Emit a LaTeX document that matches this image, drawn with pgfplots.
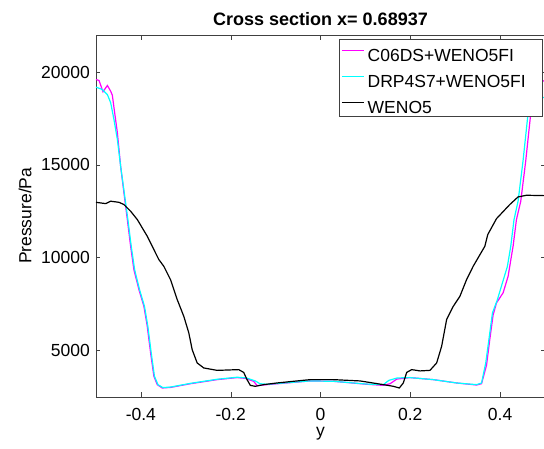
\documentclass[border=0pt]{standalone}
\usepackage{fontspec}
\setmainfont{Liberation Sans}
\usepackage{pgfplots}
\pgfplotsset{compat=1.18}
\definecolor{mag}{RGB}{255,0,255}
\definecolor{cya}{RGB}{0,255,255}
\begin{document}
\begin{tikzpicture}
\begin{axis}[
  scale only axis, width=449pt, height=361.7pt,
  xmin=-0.5, xmax=0.5, ymin=2500, ymax=22000,
  xtick={-0.4,-0.2,0,0.2,0.4},
  ytick={5000,10000,15000,20000},
  scaled y ticks=false, scaled x ticks=false,
  /pgf/number format/assume math mode=true,
  /pgf/number format/set thousands separator={},
  axis line style={black!75},
  every tick/.style={black!75},
  major tick length=4.5pt,
  no marks,
  tick label style={font=\fontsize{17.5}{21}\selectfont},
  xticklabel style={anchor=base, yshift=-24pt, inner sep=0pt},
  yticklabel style={anchor=east, inner sep=0pt, xshift=-6pt},
  every axis y label/.style={at={([xshift=-71pt]axis description cs:0,0.5)}, rotate=90, anchor=center, font=\fontsize{17.5}{21}\selectfont},
  every axis x label/.style={at={([yshift=-37.3pt]axis description cs:0.5,0)}, anchor=center, font=\fontsize{17.5}{21}\selectfont},
  every axis title/.style={at={([yshift=10pt]axis description cs:0.5,1)}, anchor=base, font=\bfseries\fontsize{18}{21}\selectfont},
  title={Cross section x= 0.68937},
  xlabel={y}, ylabel={Pressure/Pa},
  legend image code/.code={\path (0pt,0pt); \draw[#1] (0pt,10.7pt) -- (21.7pt,10.7pt);},
  legend style={at={([xshift=-3pt,yshift=-4pt]axis description cs:1,1)}, anchor=north east,
    draw=black!75, fill=white, inner xsep=1.7pt, inner ysep=2.6pt, row sep=5.9pt, column sep=3.5pt,
    font=\fontsize{17.5}{21}\selectfont,
    nodes={inner sep=0pt, text height=19.4pt, text depth=0pt},
    cells={anchor=base west}},
]
\addplot[mag, line width=1.2pt] table {
-0.5000 19600
-0.4933 19550
-0.4844 18940
-0.4747 19280
-0.4673 18970
-0.4636 18750
-0.4584 17800
-0.4524 16730
-0.4451 14920
-0.4378 13490
-0.4302 12050
-0.4229 10610
-0.4156 9350
-0.4044 8270
-0.3933 7370
-0.3858 6290
-0.3784 4860
-0.3711 3600
-0.3636 3150
-0.3524 2970
-0.3340 3000
-0.2896 3200
-0.2302 3420
-0.1858 3530
-0.1673 3490
-0.1489 3330
-0.1413 3100
-0.1191 3150
-0.0229 3350
0.0289 3330
0.1031 3170
0.1400 3110
0.1550 3200
0.1700 3450
0.1993 3530
0.2511 3420
0.3031 3240
0.3476 3130
0.3587 3200
0.3698 4200
0.3771 5600
0.3844 6900
0.3920 7560
0.4067 8100
0.4178 8990
0.4289 10610
0.4364 12050
0.4460 13037
0.4570 15195
0.4680 17714
0.4810 18900
0.4950 19510
0.5000 19550
};
\addlegendentry{C06DS+WENO5FI}
\addplot[cya, line width=1.2pt] table {
-0.5000 19190
-0.4858 19060
-0.4747 18790
-0.4673 18350
-0.4600 17440
-0.4524 16370
-0.4451 14920
-0.4370 13490
-0.4290 12050
-0.4215 10610
-0.4140 9350
-0.4030 8270
-0.3920 7370
-0.3845 6290
-0.3770 4860
-0.3698 3600
-0.3620 3150
-0.3510 2990
-0.3340 3020
-0.2896 3220
-0.2302 3440
-0.1858 3550
-0.1650 3510
-0.1450 3350
-0.1350 3200
-0.1191 3170
-0.0229 3350
0.0289 3330
0.1031 3180
0.1400 3150
0.1522 3380
0.1710 3510
0.1993 3530
0.2511 3420
0.3031 3240
0.3476 3150
0.3587 3240
0.3680 4320
0.3760 5750
0.3830 7020
0.3940 7735
0.4052 8640
0.4163 9530
0.4237 10610
0.4310 12050
0.4400 13037
0.4510 15195
0.4620 17714
0.4750 18300
0.4940 18615
0.5000 18650
};
\addlegendentry{DRP4S7+WENO5FI\rule{14.4pt}{0pt}}
\addplot[black, line width=1.2pt] table {
-0.5000 12980
-0.4784 12910
-0.4673 13040
-0.4489 12980
-0.4378 12860
-0.4229 12500
-0.4080 12050
-0.3858 11150
-0.3600 9890
-0.3489 9530
-0.3340 8810
-0.3191 7735
-0.3044 6830
-0.2933 5940
-0.2858 5040
-0.2747 4320
-0.2600 4050
-0.2302 3920
-0.1822 3960
-0.1711 3810
-0.1636 3420
-0.1562 3110
-0.1451 3060
-0.1267 3150
-0.0969 3240
-0.0524 3350
-0.0229 3420
0.0289 3420
0.0882 3350
0.1400 3150
0.1622 3060
0.1756 2970
0.1844 3240
0.1920 3810
0.2031 3960
0.2216 3890
0.2438 3920
0.2587 4320
0.2698 5220
0.2809 6660
0.2956 7370
0.3104 7910
0.3253 8810
0.3400 9530
0.3660 10610
0.3725 11240
0.3920 12100
0.4216 12860
0.4400 13270
0.4587 13360
0.5000 13340
};
\addlegendentry{WENO5}
\end{axis}
\pgfresetboundingbox
\path (current axis.south west) ++(-96pt,-51.3pt) rectangle ++(544pt,448pt);
\end{tikzpicture}
\end{document}
